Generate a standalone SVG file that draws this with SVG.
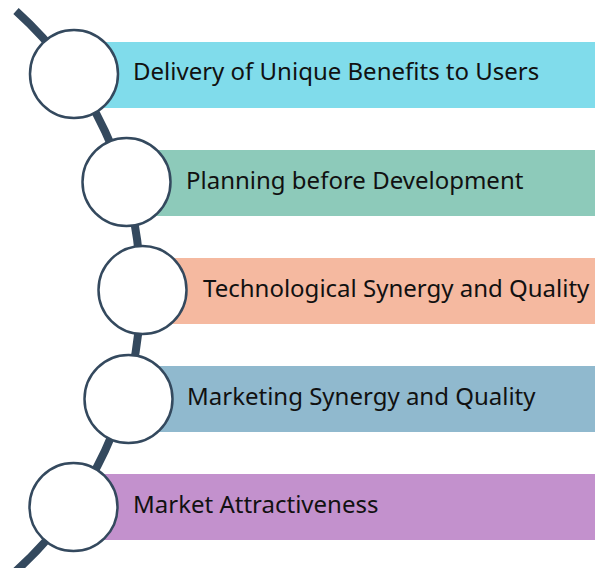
<svg xmlns="http://www.w3.org/2000/svg" width="595" height="568" viewBox="0 0 595 568">
<style>
.lbl{font-family:"Noto Sans","Open Sans",sans-serif;font-size:24px;fill:#111}
.node circle{fill:#fff;stroke:#34495e;stroke-width:2.5}
</style>
<rect width="595" height="568" fill="#fff"/>
<g id="bars">
<rect x="100" y="42" width="495" height="66" fill="#80dceb"/>
<rect x="150" y="150" width="445" height="66" fill="#8dcaba"/>
<rect x="170" y="258" width="425" height="66" fill="#f5b9a0"/>
<rect x="150" y="366" width="445" height="66" fill="#90b9ce"/>
<rect x="100" y="474" width="495" height="66" fill="#c391cd"/>
</g>
<g id="connectors">
<path d="M16,11 A377,377 0 0 1 16,571" fill="none" stroke="#34495e" stroke-width="8"/>
</g>
<g id="n1" class="node"><circle cx="74" cy="74" r="44"/><text class="lbl" x="133" y="80">Delivery of Unique Benefits to Users</text></g>
<g id="n2" class="node"><circle cx="126.5" cy="182" r="44"/><text class="lbl" x="186" y="189">Planning before Development</text></g>
<g id="n3" class="node"><circle cx="142.5" cy="290" r="44"/><text class="lbl" x="203" y="297">Technological Synergy and Quality</text></g>
<g id="n4" class="node"><circle cx="128.5" cy="399" r="44"/><text class="lbl" x="187" y="405">Marketing Synergy and Quality</text></g>
<g id="n5" class="node"><circle cx="73.5" cy="507" r="44"/><text class="lbl" x="133" y="513">Market Attractiveness</text></g>
</svg>
